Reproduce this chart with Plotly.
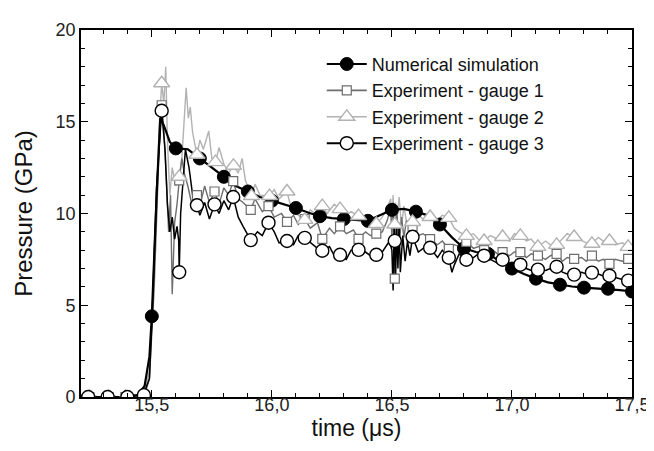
import plotly.graph_objects as go

# ---------------- data ----------------
# Numerical simulation: continuous curve and its markers
sim_curve = [(15.20, 0), (15.30, 0), (15.40, 0), (15.44, 0.1), (15.47, 0.6), (15.49, 2.2),
             (15.50, 4.4), (15.52, 11.0), (15.535, 15.2), (15.55, 14.8), (15.575, 13.9),
             (15.60, 13.55), (15.65, 13.5), (15.70, 13.0), (15.75, 12.5), (15.80, 12.0),
             (15.85, 11.5), (15.90, 11.2), (15.95, 10.9), (16.00, 10.7), (16.05, 10.5),
             (16.10, 10.3), (16.15, 10.05), (16.20, 9.85), (16.25, 9.75), (16.30, 9.7),
             (16.35, 9.65), (16.40, 9.6), (16.45, 9.9), (16.50, 10.2), (16.55, 10.25),
             (16.60, 10.1), (16.65, 9.9), (16.70, 9.4), (16.75, 8.7), (16.80, 8.1),
             (16.85, 7.9), (16.90, 7.8), (16.95, 7.4), (17.00, 7.0), (17.05, 6.7),
             (17.10, 6.45), (17.15, 6.25), (17.20, 6.12), (17.25, 6.02), (17.30, 5.96),
             (17.35, 5.92), (17.40, 5.9), (17.45, 5.82), (17.50, 5.75)]
sim_marks = [(15.5, 4.4), (15.6, 13.55), (15.7, 13.0), (15.8, 12.0), (15.9, 11.2), (16.0, 10.7),
             (16.1, 10.3), (16.2, 9.85), (16.3, 9.7), (16.4, 9.6), (16.5, 10.2), (16.6, 10.1),
             (16.7, 9.4), (16.8, 8.1), (16.9, 7.8), (17.0, 7.0), (17.1, 6.45), (17.2, 6.12),
             (17.3, 5.96), (17.4, 5.9), (17.5, 5.75)]

# Experiment - gauge 1
g1_curve = [(15.20, 0), (15.24, 0), (15.32, 0), (15.39, 0), (15.47, 0.1), (15.49, 1.0), (15.51, 6.0),
            (15.53, 13.5), (15.541, 15.9), (15.55, 14.5), (15.56, 12.0), (15.57, 9.0), (15.578, 11.0),
            (15.585, 5.6), (15.595, 9.5), (15.605, 10.5), (15.614, 11.8), (15.625, 13.0), (15.635, 12.2),
            (15.65, 11.5), (15.665, 10.6), (15.688, 11.0), (15.70, 10.4), (15.72, 11.5), (15.74, 10.6),
            (15.761, 11.2), (15.78, 10.5), (15.80, 11.4), (15.82, 11.0), (15.839, 11.76), (15.86, 10.8),
            (15.88, 10.6), (15.912, 10.2), (15.93, 10.8), (15.96, 10.1), (15.986, 10.4), (16.01, 9.8),
            (16.04, 10.0), (16.063, 9.54), (16.09, 9.9), (16.11, 9.4), (16.137, 9.7), (16.16, 9.2),
            (16.19, 9.5), (16.21, 8.62), (16.24, 9.2), (16.26, 8.9), (16.284, 9.3), (16.31, 8.9),
            (16.34, 9.1), (16.361, 8.62), (16.39, 9.0), (16.41, 8.8), (16.435, 8.9), (16.46, 9.0),
            (16.48, 9.6), (16.495, 10.3), (16.50, 8.6), (16.505, 10.6), (16.512, 6.45), (16.52, 10.2),
            (16.53, 8.2), (16.54, 9.8), (16.55, 8.7), (16.56, 9.6), (16.586, 9.3), (16.61, 8.8),
            (16.63, 8.9), (16.659, 8.6), (16.69, 8.3), (16.71, 8.5), (16.737, 8.07), (16.76, 8.3),
            (16.78, 8.2), (16.81, 8.45), (16.84, 8.1), (16.86, 8.2), (16.884, 8.0), (16.91, 8.1),
            (16.94, 7.8), (16.961, 7.9), (16.99, 7.7), (17.01, 7.9), (17.035, 7.9), (17.06, 7.6),
            (17.08, 7.8), (17.108, 7.7), (17.14, 7.5), (17.16, 7.7), (17.186, 7.8), (17.21, 7.4),
            (17.23, 7.6), (17.259, 7.53), (17.29, 7.6), (17.31, 7.4), (17.333, 7.7), (17.36, 7.4),
            (17.38, 7.5), (17.406, 7.26), (17.43, 7.5), (17.46, 7.4), (17.484, 7.53), (17.50, 7.4)]
g1_marks = [(15.24, 0), (15.32, 0), (15.39, 0), (15.47, 0), (15.541, 15.9), (15.614, 11.8),
            (15.688, 11.0), (15.761, 11.2), (15.839, 11.76), (15.912, 10.2), (15.986, 10.4),
            (16.063, 9.54), (16.137, 9.7), (16.21, 8.62), (16.284, 9.3), (16.361, 8.62),
            (16.435, 8.9), (16.512, 6.45), (16.586, 9.3), (16.659, 8.6), (16.737, 8.07),
            (16.81, 8.45), (16.884, 8.0), (16.961, 7.9), (17.035, 7.9), (17.108, 7.7),
            (17.186, 7.8), (17.259, 7.53), (17.333, 7.7), (17.406, 7.26), (17.484, 7.53)]

# Experiment - gauge 2
g2_curve = [(15.20, 0), (15.24, 0), (15.32, 0), (15.39, 0), (15.47, 0.1), (15.49, 1.5), (15.51, 7.0),
            (15.53, 14.5), (15.541, 17.1), (15.55, 16.0), (15.558, 18.0), (15.565, 14.0), (15.575, 11.0),
            (15.585, 12.5), (15.60, 11.5), (15.614, 12.0), (15.625, 13.0), (15.635, 15.5), (15.643, 16.85),
            (15.652, 15.2), (15.66, 15.8), (15.67, 14.4), (15.688, 13.2), (15.70, 14.0), (15.715, 13.5),
            (15.737, 14.5), (15.75, 13.0), (15.765, 12.8), (15.78, 13.6), (15.80, 12.7), (15.82, 12.2),
            (15.84, 12.6), (15.86, 12.2), (15.876, 13.0), (15.89, 11.8), (15.915, 10.95), (15.93, 11.6),
            (15.95, 11.0), (15.99, 10.95), (16.01, 11.3), (16.03, 10.8), (16.063, 11.2), (16.08, 10.3),
            (16.10, 10.0), (16.137, 9.65), (16.16, 10.2), (16.18, 10.0), (16.21, 10.4), (16.23, 10.0),
            (16.26, 10.5), (16.284, 10.24), (16.31, 9.9), (16.33, 10.1), (16.361, 9.86), (16.39, 9.6),
            (16.41, 9.9), (16.435, 9.43), (16.46, 9.8), (16.48, 10.3), (16.495, 10.8), (16.50, 9.2),
            (16.505, 11.0), (16.51, 8.8), (16.515, 10.6), (16.52, 9.5), (16.53, 10.9), (16.54, 9.3),
            (16.55, 10.4), (16.56, 9.6), (16.586, 9.54), (16.61, 9.9), (16.63, 9.7), (16.659, 9.81),
            (16.68, 9.5), (16.71, 9.9), (16.737, 9.76), (16.76, 9.2), (16.78, 9.0), (16.81, 8.78),
            (16.84, 8.9), (16.86, 8.6), (16.884, 8.5), (16.91, 8.8), (16.94, 8.6), (16.961, 8.72),
            (16.99, 8.5), (17.01, 8.9), (17.035, 8.78), (17.06, 8.5), (17.08, 8.6), (17.108, 8.18),
            (17.14, 8.5), (17.16, 8.3), (17.186, 8.29), (17.21, 8.6), (17.23, 8.9), (17.259, 8.72),
            (17.29, 8.5), (17.31, 8.4), (17.333, 8.35), (17.36, 8.7), (17.38, 8.5), (17.406, 8.5),
            (17.43, 8.3), (17.46, 8.4), (17.484, 8.18), (17.50, 8.3)]
g2_marks = [(15.24, 0), (15.32, 0), (15.39, 0), (15.47, 0), (15.541, 17.1), (15.614, 12.0),
            (15.688, 13.2), (15.765, 12.8), (15.84, 12.6), (15.915, 10.95), (15.99, 10.95),
            (16.063, 11.2), (16.137, 9.65), (16.21, 10.4), (16.284, 10.24), (16.361, 9.86),
            (16.435, 9.43), (16.512, 9.4), (16.586, 9.54), (16.659, 9.81), (16.737, 9.76),
            (16.81, 8.78), (16.884, 8.5), (16.961, 8.72), (17.035, 8.78), (17.108, 8.18),
            (17.186, 8.29), (17.259, 8.72), (17.333, 8.35), (17.406, 8.5), (17.484, 8.18)]

# Experiment - gauge 3
g3_curve = [(15.20, 0.1), (15.235, 0.1), (15.28, 0.0), (15.316, 0.1), (15.36, 0.0), (15.398, 0.1),
            (15.44, 0.1), (15.467, 0.2), (15.49, 1.0), (15.50, 4.0), (15.52, 11.5), (15.541, 15.6),
            (15.555, 13.5), (15.565, 10.5), (15.575, 9.0), (15.585, 9.8), (15.595, 8.6), (15.605, 9.3),
            (15.612, 8.5), (15.614, 6.8), (15.62, 10.0), (15.64, 13.5), (15.655, 12.5), (15.67, 11.0),
            (15.688, 10.45), (15.70, 9.9), (15.72, 10.6), (15.74, 9.7), (15.761, 10.5), (15.78, 10.0),
            (15.80, 10.7), (15.82, 10.2), (15.839, 10.9), (15.86, 9.8), (15.88, 9.3), (15.912, 8.55),
            (15.94, 9.0), (15.96, 8.8), (15.986, 9.5), (16.01, 9.0), (16.03, 8.4), (16.063, 8.5),
            (16.09, 8.3), (16.11, 8.8), (16.137, 8.67), (16.17, 8.3), (16.19, 8.1), (16.21, 7.97),
            (16.24, 8.2), (16.26, 7.7), (16.284, 7.75), (16.31, 7.5), (16.33, 8.0), (16.361, 8.02),
            (16.39, 7.9), (16.41, 7.7), (16.435, 7.75), (16.46, 7.9), (16.49, 8.5), (16.50, 8.0),
            (16.505, 5.8), (16.51, 9.8), (16.512, 8.51), (16.515, 6.3), (16.52, 9.3), (16.525, 7.0),
            (16.53, 9.5), (16.535, 6.8), (16.545, 8.8), (16.555, 7.4), (16.565, 8.5), (16.575, 7.7),
            (16.586, 8.73), (16.61, 7.9), (16.64, 8.2), (16.659, 8.13), (16.69, 7.6), (16.71, 8.0),
            (16.737, 7.59), (16.75, 6.8), (16.76, 7.2), (16.78, 7.8), (16.81, 7.48), (16.84, 7.6),
            (16.86, 7.8), (16.884, 7.70), (16.91, 7.5), (16.94, 7.3), (16.961, 7.48), (16.99, 7.2),
            (17.01, 7.3), (17.035, 7.21), (17.06, 7.0), (17.08, 6.9), (17.108, 6.94), (17.14, 6.9),
            (17.16, 7.0), (17.186, 7.10), (17.21, 6.8), (17.23, 6.7), (17.259, 6.67), (17.29, 6.8),
            (17.31, 6.7), (17.333, 6.78), (17.36, 6.7), (17.38, 6.6), (17.406, 6.61), (17.43, 6.5),
            (17.46, 6.4), (17.484, 6.34), (17.50, 6.3)]
g3_marks = [(15.235, 0), (15.316, 0), (15.398, 0), (15.467, 0.1), (15.541, 15.6), (15.614, 6.8),
            (15.688, 10.45), (15.761, 10.5), (15.839, 10.9), (15.912, 8.55), (15.986, 9.5),
            (16.063, 8.5), (16.137, 8.67), (16.21, 7.97), (16.284, 7.75), (16.361, 8.02),
            (16.435, 7.75), (16.512, 8.51), (16.586, 8.73), (16.659, 8.13), (16.737, 7.59),
            (16.81, 7.48), (16.884, 7.70), (16.961, 7.48), (17.035, 7.21), (17.108, 6.94),
            (17.186, 7.10), (17.259, 6.67), (17.333, 6.78), (17.406, 6.61), (17.484, 6.34)]

series_names = ["Numerical simulation", "Experiment - gauge 1",
                "Experiment - gauge 2", "Experiment - gauge 3"]
x_ticks = [15.5, 16.0, 16.5, 17.0, 17.5]
y_ticks = [0, 5, 10, 15, 20]

# ---------------- styles ----------------
FONT = "Arial, 'Liberation Sans', sans-serif"
C_SIM, C_G1, C_G2, C_G3 = "#000000", "#6e6e6e", "#b2b2b2", "#000000"


def xs(pairs):
    return [p[0] for p in pairs]


def ys(pairs):
    return [p[1] for p in pairs]


fig = go.Figure()

styles = [
    (sim_curve, sim_marks, C_SIM, 2.2, dict(symbol="circle", size=13, color=C_SIM,
                                            line=dict(color=C_SIM, width=1))),
    (g1_curve, g1_marks, C_G1, 1.4, dict(symbol="square", size=9, color="white",
                                         line=dict(color=C_G1, width=1.2))),
    (g2_curve, g2_marks, C_G2, 1.4, dict(symbol="triangle-up", size=14, color="white",
                                         line=dict(color=C_G2, width=1.4))),
    (g3_curve, g3_marks, C_G3, 1.5, dict(symbol="circle", size=13, color="white",
                                         line=dict(color=C_G3, width=1.4))),
]

# lines: gauge 2, gauge 1, gauge 3, simulation ; markers: simulation, gauge 1, gauge 2, gauge 3
for i in [2, 1, 3, 0]:
    curve, marks, col, lw, mk = styles[i]
    fig.add_trace(go.Scatter(x=xs(curve), y=ys(curve), mode="lines",
                             line=dict(color=col, width=lw), showlegend=False,
                             hoverinfo="skip"))
for i in [0, 1, 2, 3]:
    curve, marks, col, lw, mk = styles[i]
    fig.add_trace(go.Scatter(x=xs(marks), y=ys(marks), mode="markers",
                             marker=mk, showlegend=False, name=series_names[i]))
# legend entries
for i in range(4):
    curve, marks, col, lw, mk = styles[i]
    fig.add_trace(go.Scatter(x=[None], y=[None], mode="lines+markers",
                             line=dict(color=col, width=2 if i in (0, 3) else 1.6),
                             marker=mk, name=series_names[i], showlegend=True))

axis_common = dict(showline=True, linecolor="black", linewidth=1.6, mirror="ticks",
                   ticks="inside", ticklen=7, tickwidth=1.2, tickcolor="black",
                   showgrid=False, zeroline=False,
                   tickfont=dict(family=FONT, size=18, color="#222"))

fig.update_layout(
    width=654, height=451,
    margin=dict(l=73, r=19, t=20, b=62),
    paper_bgcolor="white", plot_bgcolor="white",
    separators=",.",
    font=dict(family=FONT, color="#111"),
    xaxis=dict(range=[15.205, 17.5], tickvals=x_ticks, tickformat=".1f",
               ticklabelstandoff=-9,
               minor=dict(dtick=0.1, tick0=15.0, ticks="inside", ticklen=4, tickcolor="black",
                          tickwidth=1),
               title=dict(text="time (μs)", font=dict(family=FONT, size=23), standoff=2),
               **axis_common),
    yaxis=dict(range=[0, 20], tickvals=y_ticks,
               minor=dict(dtick=1, tick0=0, ticks="inside", ticklen=4, tickcolor="black",
                          tickwidth=1),
               title=dict(text="Pressure (GPa)", font=dict(family=FONT, size=24), standoff=16),
               **axis_common),
    legend=dict(x=0.437, y=0.957, xanchor="left", yanchor="top",
                bgcolor="rgba(0,0,0,0)", font=dict(family=FONT, size=18, color="#111"),
                itemwidth=40, tracegroupgap=0),
)

fig.write_html("out.html")
